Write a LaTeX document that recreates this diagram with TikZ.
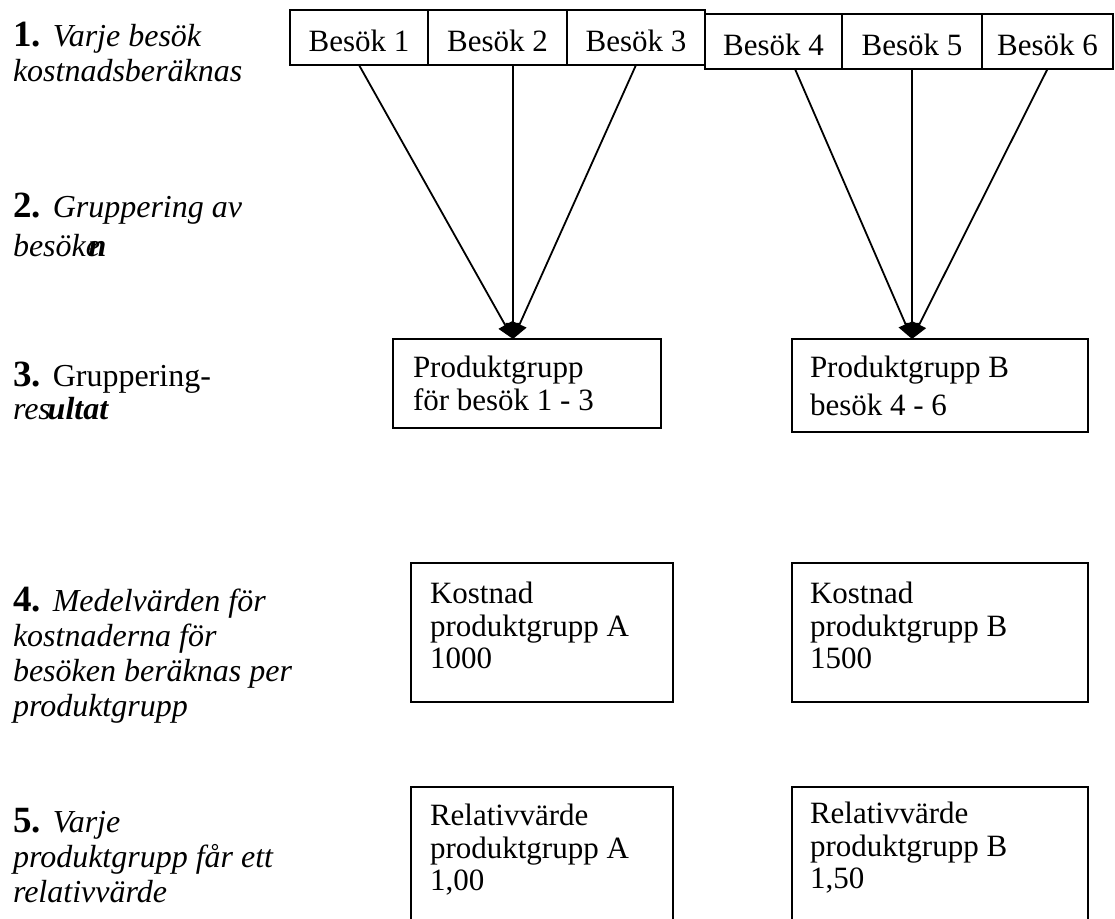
\documentclass[tikz,border=0pt]{standalone}
\usepackage{fontspec}
\setmainfont{Liberation Serif}
\usetikzlibrary{arrows.meta}
\newcommand\stepno[1]{{\fontsize{18.5}{18.5}\selectfont\bfseries\upshape #1}\hspace{6pt}}
\begin{document}
\begin{tikzpicture}[x=0.5pt,y=-0.5pt,
  every node/.style={inner sep=0pt,outer sep=0pt},
  frame/.style={draw,line width=0.9pt},
  cell/.style={frame,font=\fontsize{15.5}{16}\selectfont,text height=14pt,text depth=0pt,minimum height=27.5pt},
  panel/.style={frame,anchor=north west},
  paneltext/.style={anchor=north west,align=left,font=\fontsize{15.5}{16.25}\selectfont},
  steptext/.style={anchor=north west,align=left,font=\fontsize{16}{17.5}\selectfont\itshape},
  feed/.style={line width=0.9pt,-{Triangle[length=8pt,width=7.5pt]}}]
\useasboundingbox (0,0) rectangle (1115,919);
\clip (0,0) rectangle (1115,919);

% step descriptions on the left
\node[steptext] (l1) at (13,22) {\stepno{1.}Varje besök\\kostnadsberäknas};
\node[steptext] (l2) at (13,193) {\stepno{2.}Gruppering av\\[2pt]besöke\kern-0.36em{\bfseries n}};
\node[steptext] (l3) at (13,362) {\stepno{3.}\upshape Gruppering-\\[-1pt]res\kern-0.1em{\bfseries ultat}};
\node[steptext] (l4) at (13,587) {\stepno{4.}Medelvärden för\\kostnaderna för\\besöken beräknas per\\produktgrupp};
\node[steptext] (l5) at (13,808) {\stepno{5.}Varje\\produktgrupp får ett\\relativvärde};

% visits, two rows of cells
\node[cell,minimum width=69pt]   (b1) at (359,37.5)    {Besök 1};
\node[cell,minimum width=69.5pt] (b2) at (497.5,37.5)  {Besök 2};
\node[cell,minimum width=69pt]   (b3) at (636,37.5)    {Besök 3};
\node[cell,minimum width=68.5pt] (b4) at (773.5,41.5)  {Besök 4};
\node[cell,minimum width=70pt]   (b5) at (912,41.5)    {Besök 5};
\node[cell,minimum width=65.5pt] (b6) at (1047.5,41.5) {Besök 6};

% product groups
\node[panel,minimum width=134pt,minimum height=44.5pt] (pa) at (393,339) {};
\node[panel,minimum width=148pt,minimum height=46.5pt] (pb) at (792,339) {};
\node[paneltext] (pat) at (413,356) {Produktgrupp\\för besök 1 - 3};
\node[paneltext] (pbt) at (810,356) {Produktgrupp B\\[2.5pt]besök 4 - 6};

% mean costs
\node[panel,minimum width=131pt,minimum height=69.5pt] (ka) at (411,563) {};
\node[panel,minimum width=148pt,minimum height=69.5pt] (kb) at (792,563) {};
\node[paneltext] (kat) at (430,582) {Kostnad\\produktgrupp A\\1000};
\node[paneltext] (kbt) at (810,582) {Kostnad\\produktgrupp B\\1500};

% relative values
\node[panel,minimum width=131pt,minimum height=80pt] (ra) at (411,787) {};
\node[panel,minimum width=148pt,minimum height=80pt] (rb) at (792,787) {};
\node[paneltext] (rat) at (430,804) {Relativvärde\\produktgrupp A\\1,00};
\node[paneltext] (rbt) at (810,802) {Relativvärde\\produktgrupp B\\1,50};

% connectors from the visits to their product group
\coordinate (s1) at (b1.south);
\coordinate (s2) at (513,65);
\coordinate (s3) at (b3.south);
\coordinate (s4) at (795,69);
\coordinate (s5) at (b5.south);
\coordinate (s6) at (b6.south);
\coordinate (ta) at (513,339);
\coordinate (tb) at (912,339);
\draw[feed] (s1) -- (ta);
\draw[feed] (s2) -- (ta);
\draw[feed] (s3) -- (ta);
\draw[feed] (s4) -- (tb);
\draw[feed] (s5) -- (tb);
\draw[feed] (s6) -- (tb);
\end{tikzpicture}
\end{document}
